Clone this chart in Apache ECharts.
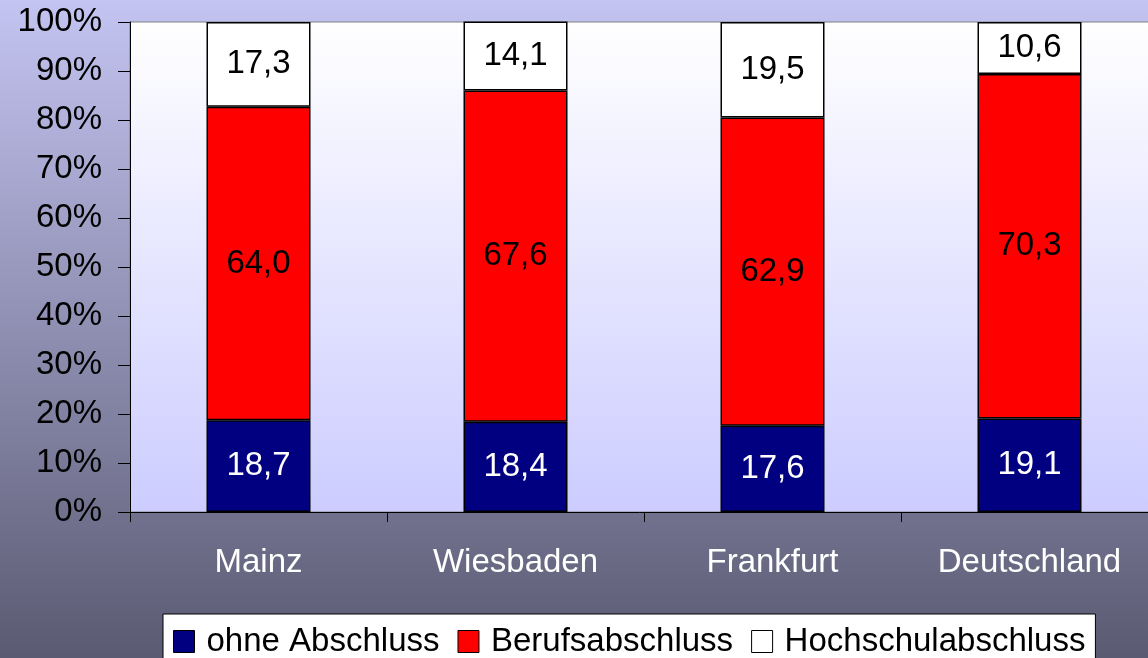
<!DOCTYPE html>
<html>
<head>
<meta charset="utf-8">
<script src="https://cdn.jsdelivr.net/npm/echarts@6/dist/echarts.min.js"></script>
<style>
  html, body { margin: 0; padding: 0; }
  #chart { width: 1148px; height: 658px; }
</style>
</head>
<body>
<div id="chart"></div>
<script>
// Städte
const cities = ['Mainz', 'Wiesbaden', 'Frankfurt', 'Deutschland']
// Anteile in %
const ohneAbschluss = [18.7, 18.4, 17.6, 19.1]
const berufsabschluss = [64.0, 67.6, 62.9, 70.3]
const hochschulabschluss = [17.3, 14.1, 19.5, 10.6]
const yTicks = [0, 10, 20, 30, 40, 50, 60, 70, 80, 90, 100]

const font = 'Liberation Sans, Arial, sans-serif'

function fmt(p) {
  return p.value.toFixed(1).replace('.', ',')
}

function bar(name, data, color, labelColor) {
  return {
    name: name,
    type: 'bar',
    stack: 'total',
    data: data,
    barWidth: 104,
    itemStyle: { color: color, borderColor: '#000', borderWidth: 1.5 },
    label: {
      show: true,
      position: 'inside',
      formatter: fmt,
      color: labelColor,
      fontSize: 33,
      fontFamily: font
    }
  }
}

const myChart = echarts.init(document.getElementById('chart'))

const option = {
  animation: false,
  backgroundColor: {
    type: 'linear', x: 0, y: 0, x2: 0, y2: 1,
    colorStops: [
      { offset: 0, color: '#c4c4f2' },
      { offset: 1, color: '#5a5a72' }
    ]
  },
  grid: {
    left: 130,
    top: 22,
    width: 1028,
    height: 490,
    outerBoundsMode: 'none',
    show: true,
    borderColor: '#808080',
    borderWidth: 1,
    backgroundColor: {
      type: 'linear', x: 0, y: 0, x2: 0, y2: 1,
      colorStops: [
        { offset: 0, color: '#ffffff' },
        { offset: 1, color: '#ccccff' }
      ]
    }
  },
  legend: {
    data: ['ohne Abschluss', 'Berufsabschluss', 'Hochschulabschluss'],
    left: 163,
    top: 614,
    backgroundColor: '#fff',
    borderColor: '#000',
    borderWidth: 1,
    padding: [11, 10, 10, 10],
    itemWidth: 21,
    itemHeight: 22,
    itemGap: 18,
    icon: 'rect',
    itemStyle: { borderWidth: 1, borderColor: '#000' },
    textStyle: { fontSize: 33, fontFamily: font, color: '#000', padding: [0, 0, 0, 7] }
  },
  xAxis: {
    type: 'category',
    data: cities,
    axisLine: { lineStyle: { color: '#000', width: 1 } },
    axisTick: { show: true, length: 10, lineStyle: { color: '#000' } },
    axisLabel: { color: '#fff', fontSize: 33, fontFamily: font, margin: 34 }
  },
  yAxis: {
    type: 'value',
    min: yTicks[0],
    max: yTicks[yTicks.length - 1],
    interval: 10,
    splitLine: { show: false },
    axisLine: { show: true, lineStyle: { color: '#000', width: 1 } },
    axisTick: { show: true, length: 12, lineStyle: { color: '#000' } },
    axisLabel: { formatter: '{value}%', color: '#000', fontSize: 33, fontFamily: font, margin: 28 }
  },
  series: [
    bar('ohne Abschluss', ohneAbschluss, '#000080', '#fff'),
    bar('Berufsabschluss', berufsabschluss, '#ff0000', '#000'),
    bar('Hochschulabschluss', hochschulabschluss, '#ffffff', '#000')
  ]
}

option && myChart.setOption(option)
</script>
</body>
</html>
